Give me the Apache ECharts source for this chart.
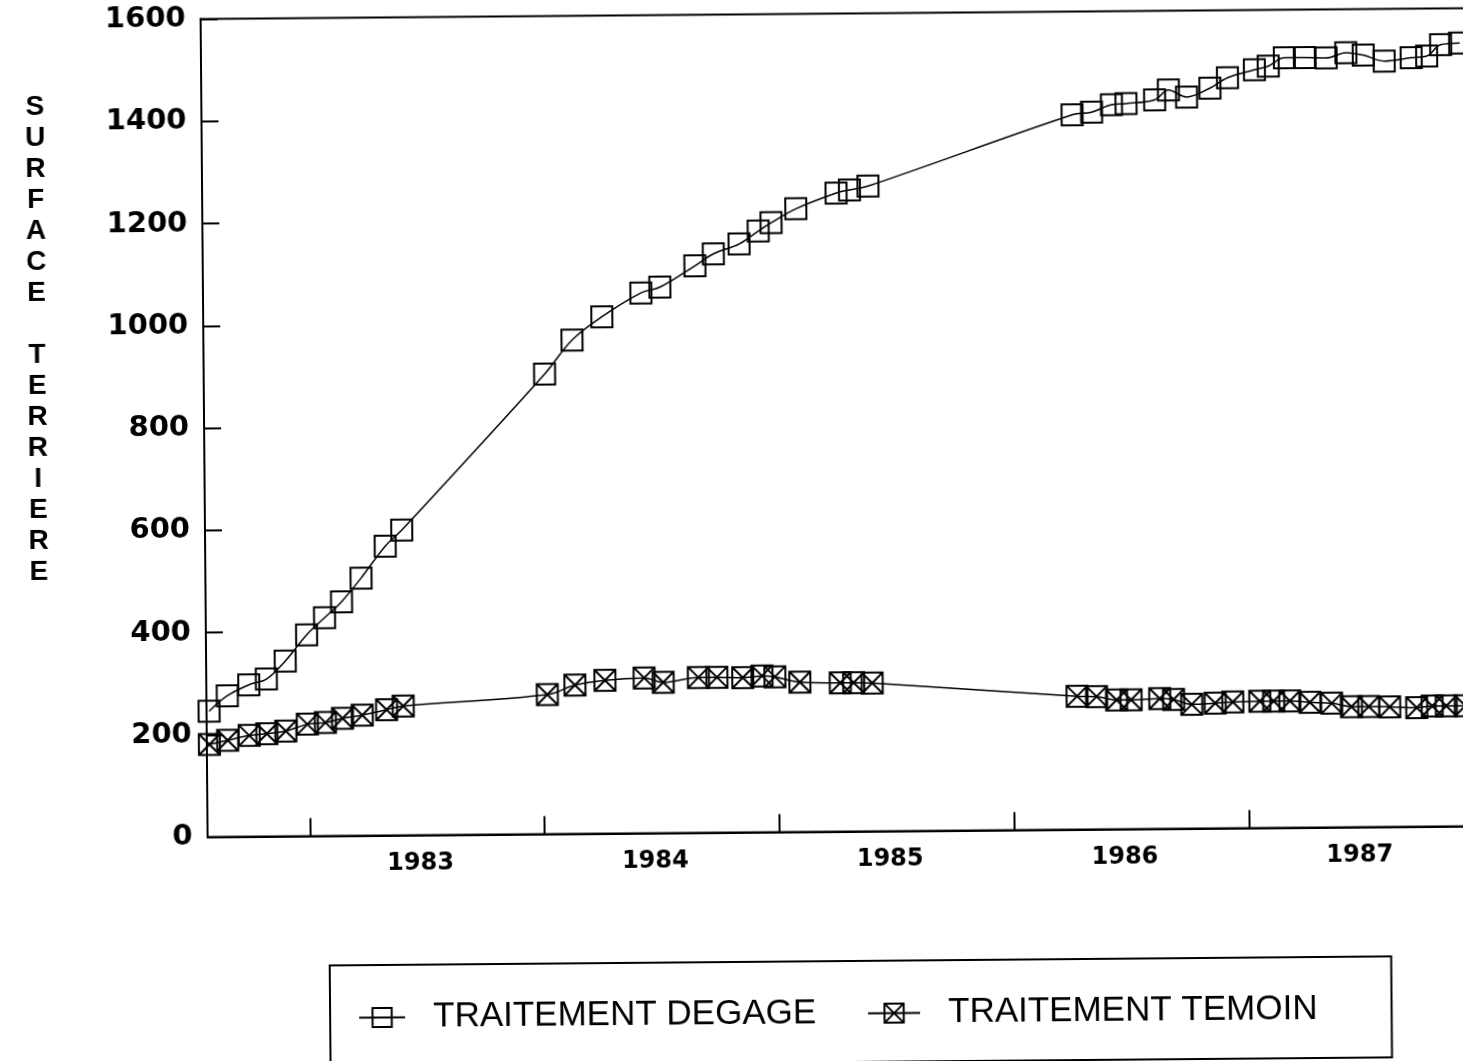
<!DOCTYPE html>
<html>
<head>
<meta charset="utf-8">
<title>Surface terriere</title>
<script src="https://cdn.jsdelivr.net/npm/echarts@6/dist/echarts.min.js"></script>
<style>
  html, body { margin: 0; padding: 0; background: #fff; overflow: hidden; }
  #chart {
    position: absolute;
    left: 0;
    top: 0;
    width: 1520px;
    height: 1100px;
    /* the scanned figure sits slightly askew */
    transform-origin: 731.5px 530.5px;
    transform: rotate(-0.49deg);
  }
</style>
</head>
<body>
<div id="chart"></div>
<script>
// measurement dates, decimal years (same dates for both treatments)
const dates = [
  1982.575, 1982.653, 1982.745, 1982.820, 1982.901, 1982.993, 1983.070, 1983.143,
  1983.227, 1983.331, 1983.402,
  1984.016, 1984.134, 1984.262, 1984.429, 1984.510, 1984.660, 1984.739, 1984.849,
  1984.931, 1984.986, 1985.092, 1985.264, 1985.321, 1985.400,
  1986.272, 1986.355, 1986.440, 1986.502, 1986.624, 1986.683, 1986.760, 1986.860,
  1986.935, 1987.050, 1987.109, 1987.178, 1987.263, 1987.356, 1987.440, 1987.514,
  1987.603, 1987.718, 1987.784, 1987.844, 1987.925
];

const degage = [
  246, 276, 297, 308, 343, 394, 427, 458, 504, 566, 597,
  900, 966, 1011, 1057, 1068, 1109, 1132, 1151, 1176, 1192, 1219, 1249, 1255, 1262,
  1398, 1403, 1417, 1419, 1426, 1445, 1431, 1448, 1468, 1483, 1490, 1506, 1506,
  1505, 1515, 1510, 1498, 1504, 1507, 1529, 1532
];

const temoin = [
  181, 189, 198, 201, 206, 219, 222, 230, 236, 246, 253,
  273, 291, 300, 304, 295, 304, 304, 303, 306, 304, 293, 291, 291, 290,
  261, 260, 253, 253, 255, 253, 243, 245, 247, 248, 248, 248, 245, 243, 236,
  236, 235, 233, 236, 236, 236
];

const yearLabels = ['1983', '1984', '1985', '1986', '1987'];
const yTitle = 'SURFACE TERRIERE';
const seriesNames = ['TRAITEMENT DEGAGE', 'TRAITEMENT TEMOIN'];

const yearStarts = yearLabels.map(Number);
// labels sit roughly in the middle of each year
const yearMids = yearStarts.map(y => y + 0.47);

const toPairs = vals => dates.map((d, i) => [d, vals[i]]);

const boxCross = 'path://M0,0H20V20H0Z M0,0L20,20 M20,0L0,20';

const chart = echarts.init(document.getElementById('chart'));

const legendText = {
  fontFamily: 'Liberation Sans',
  fontSize: 35,
  color: '#000',
  padding: [0, 0, 0, 23]
};

const option = {
  backgroundColor: '#fff',
  animation: false,
  grid: {
    left: 205,
    top: 14.5,
    right: 38.6,
    bottom: 267.4,
    show: true,
    borderColor: '#000',
    borderWidth: 2,
    containLabel: false,
    outerBoundsMode: 'none'
  },
  xAxis: {
    type: 'value',
    min: 1982.564,
    max: 1988,
    axisLine: { show: true, onZero: false, lineStyle: { color: '#000', width: 2 } },
    axisTick: {
      show: true,
      inside: true,
      length: 18,
      customValues: yearStarts,
      lineStyle: { color: '#000', width: 2 }
    },
    axisLabel: {
      customValues: yearMids,
      margin: 16,
      color: '#000',
      fontFamily: 'DejaVu Sans',
      fontWeight: 'bold',
      fontSize: 24,
      formatter: v => String(Math.floor(v))
    },
    splitLine: { show: false }
  },
  yAxis: {
    type: 'value',
    min: 0,
    max: 1600,
    interval: 200,
    axisLine: { show: true, onZero: false, lineStyle: { color: '#000', width: 2 } },
    axisTick: { show: true, inside: true, length: 17, lineStyle: { color: '#000', width: 2 } },
    axisLabel: {
      margin: 15,
      color: '#000',
      fontFamily: 'DejaVu Sans',
      fontWeight: 'bold',
      fontSize: 29,
      formatter: v => String(v)
    },
    splitLine: { show: false }
  },
  legend: [
    {
      data: [seriesNames[0]],
      left: 354,
      top: 997,
      padding: 0,
      itemWidth: 46,
      itemHeight: 24,
      textStyle: legendText
    },
    {
      data: [seriesNames[1]],
      left: 863,
      top: 997,
      padding: 0,
      itemWidth: 52,
      itemHeight: 24,
      textStyle: legendText
    }
  ],
  graphic: [
    {
      type: 'text',
      x: 38.6,
      y: 334,
      style: {
        text: yTitle.split('').join('\n'),
        fontFamily: 'Liberation Sans',
        fontWeight: 'bold',
        fontSize: 28,
        lineHeight: 31,
        fill: '#000',
        align: 'center',
        verticalAlign: 'middle',
        textAlign: 'center',
        textVerticalAlign: 'middle'
      }
    },
    {
      type: 'rect',
      shape: { x: 326, y: 962, width: 1061.5, height: 101 },
      style: { fill: 'none', stroke: '#000', lineWidth: 2 }
    }
  ],
  series: [
    {
      name: seriesNames[0],
      type: 'line',
      data: toPairs(degage),
      smooth: 0.35,
      symbol: 'rect',
      symbolSize: 21,
      showAllSymbol: true,
      lineStyle: { color: '#000', width: 1.5 },
      itemStyle: { color: 'transparent', borderColor: '#000', borderWidth: 2 }
    },
    {
      name: seriesNames[1],
      type: 'line',
      data: toPairs(temoin),
      smooth: 0.35,
      symbol: boxCross,
      symbolSize: 21,
      showAllSymbol: true,
      lineStyle: { color: '#000', width: 1.5 },
      itemStyle: { color: 'transparent', borderColor: '#000', borderWidth: 2 }
    }
  ]
};

chart.setOption(option);
</script>
</body>
</html>
